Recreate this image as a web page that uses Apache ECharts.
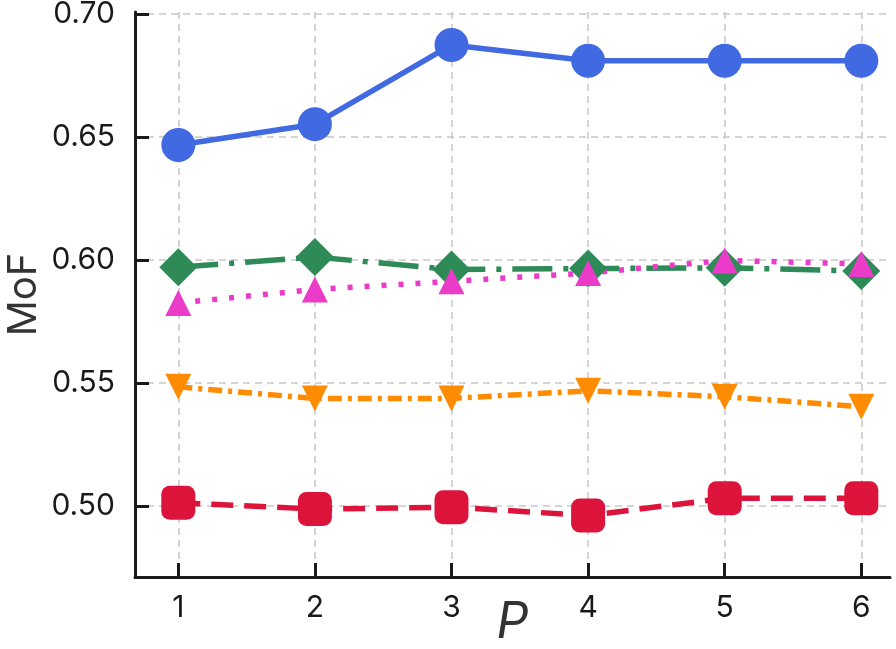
<!DOCTYPE html>
<html>
<head>
<meta charset="utf-8">
<script src="https://cdn.jsdelivr.net/npm/echarts@6/dist/echarts.min.js"></script>
<style>
  html, body { margin: 0; padding: 0; background: #fff; }
  #chart { width: 896px; height: 649px; }
</style>
</head>
<body>
<div id="chart"></div>
<script>
const pValues = [1, 2, 3, 4, 5, 6]
const yTicks = [0.50, 0.55, 0.60, 0.65, 0.70]

const blueVals = [0.6467, 0.6552, 0.6874, 0.6810, 0.6810, 0.6810]
const greenVals = [0.5970, 0.6012, 0.5961, 0.5965, 0.5968, 0.5955]
const pinkVals = [0.5825, 0.5880, 0.5913, 0.5947, 0.5998, 0.5984]
const orangeVals = [0.5484, 0.5437, 0.5437, 0.5468, 0.5444, 0.5403]
const redVals = [0.5013, 0.4987, 0.4995, 0.4961, 0.5031, 0.5031]

const font = 'Inter, "Liberation Sans", sans-serif'
const gridLine = { show: true, lineStyle: { color: '#c8c8c8', width: 1.5, type: [7, 5] } }

const pairs = vals => vals.map((v, i) => [pValues[i], v])

const makeSeries = (vals, color, symbol, size, dash, extra = {}) => ({
  type: 'line',
  data: pairs(vals),
  symbol,
  symbolSize: size,
  showSymbol: true,
  lineStyle: { color, width: 5.5, type: dash, cap: 'butt' },
  itemStyle: { color, borderWidth: 0 },
  emphasis: { disabled: true },
  ...extra,
})

const chart = echarts.init(document.getElementById('chart'))
chart.setOption({
  animation: false,
  backgroundColor: '#fff',
  grid: { left: 135, right: 6, top: 12, bottom: 72, outerBoundsMode: 'none', containLabel: false },
  xAxis: {
    type: 'value',
    min: 0.683,
    max: 6.21,
    name: 'P',
    nameLocation: 'middle',
    nameGap: 21,
    nameMoveOverlap: false,
    nameTextStyle: { fontFamily: font, fontStyle: 'italic', fontSize: 50, color: '#333' },
    axisLine: { lineStyle: { color: '#1a1a1a', width: 3 } },
    axisTick: { inside: true, length: 14, lineStyle: { color: '#1a1a1a', width: 3 }, customValues: pValues },
    axisLabel: { fontFamily: font, fontSize: 30, color: '#1a1a1a', margin: 16, customValues: pValues },
    splitLine: gridLine,
  },
  yAxis: {
    type: 'value',
    min: 0.4711,
    max: 0.7008,
    name: 'MoF',
    nameLocation: 'middle',
    nameGap: 91,
    nameMoveOverlap: false,
    nameTextStyle: { fontFamily: font, fontSize: 40, color: '#333' },
    axisLine: { show: true, lineStyle: { color: '#1a1a1a', width: 3 } },
    axisTick: { show: true, inside: true, length: 14, lineStyle: { color: '#1a1a1a', width: 3 }, customValues: yTicks },
    axisLabel: {
      fontFamily: font, fontSize: 30, color: '#1a1a1a', margin: 20,
      customValues: yTicks,
      formatter: v => v.toFixed(2),
    },
    splitLine: gridLine,
  },
  series: [
    makeSeries(redVals, '#dc143c', 'roundRect', 34, [22, 11]),
    makeSeries(orangeVals, '#ff8c00', 'triangle', 26, [14, 6, 4, 6], { symbolRotate: 180 }),
    makeSeries(greenVals, '#2e8b57', 'diamond', 38, [40, 11, 5, 11]),
    makeSeries(pinkVals, '#ea3bc9', 'triangle', 26, [5, 12]),
    makeSeries(blueVals, '#4169e1', 'circle', 34, 'solid'),
  ],
})
</script>
</body>
</html>
